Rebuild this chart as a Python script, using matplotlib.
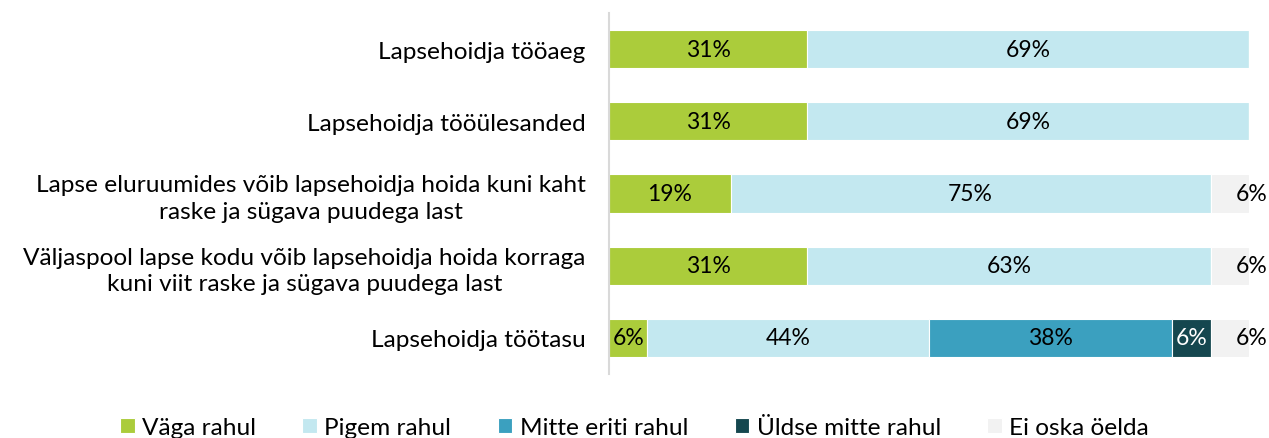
import matplotlib
matplotlib.use("Agg")
import matplotlib.pyplot as plt
import numpy as np

categories = [
    "Lapsehoidja tööaeg",
    "Lapsehoidja tööülesanded",
    "Lapse eluruumides võib lapsehoidja hoida kuni kaht\nraske ja sügava puudega last",
    "Väljaspool lapse kodu võib lapsehoidja hoida korraga\nkuni viit raske ja sügava puudega last",
    "Lapsehoidja töötasu",
]
series_names = ["Väga rahul", "Pigem rahul", "Mitte eriti rahul", "Üldse mitte rahul", "Ei oska öelda"]
vaga_rahul = [31, 31, 19, 31, 6]
pigem_rahul = [69, 69, 75, 63, 44]
mitte_eriti = [0, 0, 0, 0, 38]
ylds_mitte = [0, 0, 0, 0, 6]
ei_oska = [0, 0, 6, 6, 6]

series = [vaga_rahul, pigem_rahul, mitte_eriti, ylds_mitte, ei_oska]
colors = ["#ABCC3B", "#C3E8F0", "#3BA0BF", "#15474F", "#F2F2F2"]
text_colors = ["black", "black", "black", "white", "black"]

plt.rcParams['font.family'] = ['Lato', 'DejaVu Sans']

fig = plt.figure(figsize=(12.69, 4.39), dpi=100)
ax = fig.add_axes([609/1269, 1-375/439, 640/1269, 361/439])

y = np.arange(len(categories))
left = np.zeros(len(categories))
for i, (vals, name, col) in enumerate(zip(series, series_names, colors)):
    vals = np.array(vals, dtype=float)
    ax.barh(y, vals, left=left, height=0.53, color=col, label=name, edgecolor='white', linewidth=0.8)
    for j, v in enumerate(vals):
        if v > 0:
            if i == len(series) - 1:
                xpos = left[j] + v + 0.4
            else:
                xpos = left[j] + v / 2
            ax.text(xpos, y[j], f"{int(v)}%", ha='center', va='center',
                    fontsize=16.5, color=text_colors[i])
    left += vals

ax.set_xlim(0, 100)
ax.set_ylim(len(categories) - 0.5, -0.5)
ax.set_yticks(y)
ax.set_yticklabels(categories, fontsize=17.6, ha='right', multialignment='center', linespacing=1.3)
ax.tick_params(axis='y', length=0, pad=17)
ax.set_xticks([])
for s in ['top', 'right', 'bottom']:
    ax.spines[s].set_visible(False)
ax.spines['left'].set_color('#D9D9D9')
ax.spines['left'].set_linewidth(1.5)

handles, labels = ax.get_legend_handles_labels()
fig.legend(handles, labels, loc='lower center', ncol=5, bbox_to_anchor=(0.5, -0.05),
           frameon=False, fontsize=17.6, handlelength=0.6, handleheight=0.6,
           handletextpad=0.3, columnspacing=1.9)

fig.savefig("out.png", dpi=100)
